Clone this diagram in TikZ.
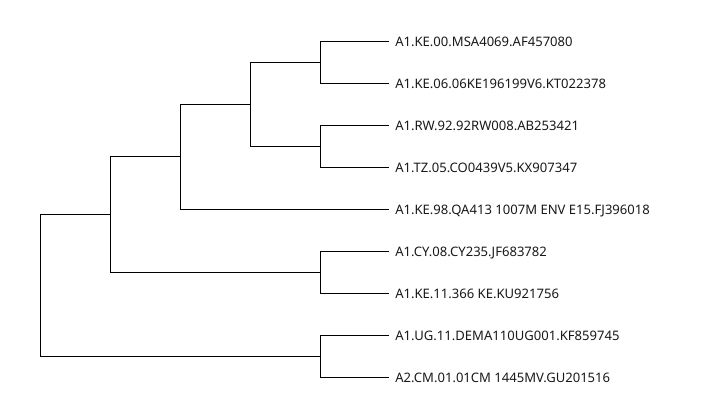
\documentclass[tikz,border=0pt]{standalone}
\usepackage{fontspec}
\setmainfont{Noto Sans}
\begin{document}
\begin{tikzpicture}[x=0.75pt,y=-0.75pt,
  branch/.style={draw=black,line width=0.8pt,line join=miter},
  leaflabel/.style={anchor=base west,inner sep=0pt,font=\fontsize{9.8pt}{11pt}\selectfont,text=black!90}]
\useasboundingbox (0,0) rectangle (720,412);
% leaf tips and their labels
\foreach \name/\yy/\txt in {
  l1/41.5/A1.KE.00.MSA4069.AF457080,
  l2/83.5/A1.KE.06.06KE196199V6.KT022378,
  l3/125.5/A1.RW.92.92RW008.AB253421,
  l4/167.5/A1.TZ.05.CO0439V5.KX907347,
  l5/209.5/A1.KE.98.QA413 1007M ENV E15.FJ396018,
  l6/251.5/A1.CY.08.CY235.JF683782,
  l7/293.5/A1.KE.11.366 KE.KU921756,
  l8/335.5/A1.UG.11.DEMA110UG001.KF859745,
  l9/377.5/A2.CM.01.01CM 1445MV.GU201516}{
  \coordinate (\name) at (389,\yy);
  \node[leaflabel] (\name t) at (395,\yy+4.6) {\txt};
}
% internal nodes
\coordinate (na) at (320.5,62.5);
\coordinate (nb) at (320.5,146.5);
\coordinate (nc) at (250.5,104.5);
\coordinate (nd) at (180.5,156.5);
\coordinate (ne) at (320.5,272.5);
\coordinate (nf) at (110.5,214.5);
\coordinate (ng) at (320.5,356.5);
\coordinate (root) at (40.5,285.5);
% branches
\draw[branch] (l1) -| (na) |- (l2);
\draw[branch] (l3) -| (nb) |- (l4);
\draw[branch] (na) -| (nc) |- (nb);
\draw[branch] (nc) -| (nd) |- (l5);
\draw[branch] (l6) -| (ne) |- (l7);
\draw[branch] (nd) -| (nf) |- (ne);
\draw[branch] (l8) -| (ng) |- (l9);
\draw[branch] (nf) -| (root) |- (ng);
\end{tikzpicture}
\end{document}
